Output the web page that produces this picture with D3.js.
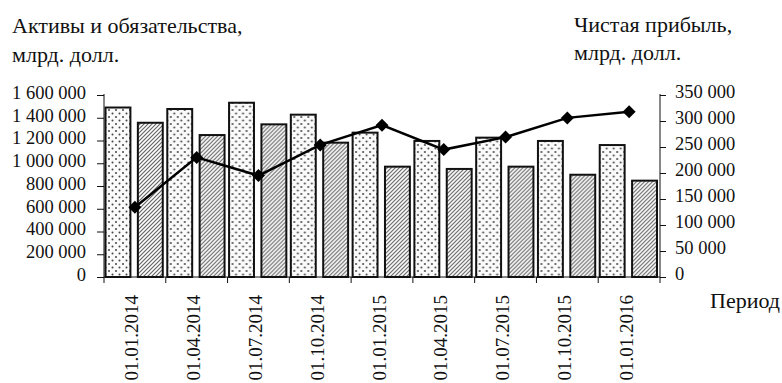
<!DOCTYPE html>
<html>
<head>
<meta charset="utf-8">
<script src="https://cdn.jsdelivr.net/npm/d3@7"></script>
<style>
  html, body { margin: 0; padding: 0; background: #fff; }
  svg { display: block; }
  text { font-family: "Liberation Serif", "Times New Roman", serif; fill: #111; }
</style>
</head>
<body>
<svg id="chart" width="782" height="383"></svg>
<script>
// Quarterly dates
const periods = ["01.01.2014", "01.04.2014", "01.07.2014", "01.10.2014", "01.01.2015",
                 "01.04.2015", "01.07.2015", "01.10.2015", "01.01.2016"];
// Assets and liabilities, bn USD (left axis)
const assets      = [1490000, 1477000, 1532000, 1427000, 1269000, 1196000, 1225000, 1196000, 1160000];
const liabilities = [1356000, 1248000, 1342000, 1181000,  970000,  950000,  970000,  899000,  847000];
// Net profit, bn USD (right axis)
const netProfit   = [134000, 230000, 195000, 254000, 292000, 245000, 269000, 306000, 318000];
// Axis ticks
const leftTicks  = [0, 200000, 400000, 600000, 800000, 1000000, 1200000, 1400000, 1600000];
const rightTicks = [0, 50000, 100000, 150000, 200000, 250000, 300000, 350000];

const svg = d3.select("#chart");
const plotLeft = 104, plotRight = 660, plotBottom = 277, plotTop = 95;

const fmt = d3.formatLocale({ decimal: ",", thousands: "\u00a0", grouping: [3], currency: ["", ""] }).format(",d");

const x = d3.scaleBand().domain(periods).range([plotLeft, plotRight]).padding(0);
const xInner = d3.scaleBand().domain(["assets", "liabilities"])
  .range([1.5, x.bandwidth() - 3]).paddingInner(0.23);
const yL = d3.scaleLinear().domain([0, 1600000]).range([plotBottom, plotTop]);
const yR = d3.scaleLinear().domain([0, 350000]).range([plotBottom, plotTop]);

// Fill patterns: staggered dots for assets, diagonal hatching for liabilities
const defs = svg.append("defs");
const dots = defs.append("pattern").attr("id", "dots")
  .attr("patternUnits", "userSpaceOnUse").attr("width", 7).attr("height", 7);
dots.append("rect").attr("width", 7).attr("height", 7).attr("fill", "#fafafa");
dots.append("circle").attr("cx", 1.5).attr("cy", 1.5).attr("r", 1).attr("fill", "#444");
dots.append("circle").attr("cx", 5).attr("cy", 5).attr("r", 1).attr("fill", "#444");

const hatch = defs.append("pattern").attr("id", "hatch")
  .attr("patternUnits", "userSpaceOnUse").attr("width", 4).attr("height", 4);
hatch.append("rect").attr("width", 4).attr("height", 4).attr("fill", "#fff");
hatch.append("path").attr("d", "M-1,1 l2,-2 M0,4 l4,-4 M3,5 l2,-2")
  .attr("stroke", "#666").attr("stroke-width", 1.2);

// Bars
const rows = periods.map((p, i) => ({ p, assets: assets[i], liabilities: liabilities[i] }));
const groups = svg.append("g").selectAll("g").data(rows).join("g")
  .attr("transform", d => `translate(${x(d.p)},0)`);
groups.selectAll("rect")
  .data(d => [{ k: "assets", v: d.assets }, { k: "liabilities", v: d.liabilities }])
  .join("rect")
  .attr("x", d => xInner(d.k))
  .attr("width", xInner.bandwidth())
  .attr("y", d => yL(d.v))
  .attr("height", d => plotBottom - yL(d.v))
  .attr("fill", d => d.k === "assets" ? "url(#dots)" : "url(#hatch)")
  .attr("stroke", "#111").attr("stroke-width", 2);

// Left axis
const axL = svg.append("g").attr("transform", `translate(${plotLeft},0)`)
  .call(d3.axisLeft(yL).tickValues(leftTicks).tickFormat(fmt).tickSize(7).tickPadding(11));
axL.select(".domain").attr("stroke", "#111").attr("d", `M0,${plotTop - 1}V${plotBottom}`);
axL.selectAll(".tick line").attr("stroke", "#111");
axL.selectAll(".tick text").attr("font-size", 18.5).attr("dy", "0.18em")
  .attr("font-family", "Liberation Serif").attr("fill", "#111");

// Right axis
const axR = svg.append("g").attr("transform", `translate(${plotRight},0)`)
  .call(d3.axisRight(yR).tickValues(rightTicks).tickFormat(fmt).tickSize(6).tickPadding(9));
axR.select(".domain").attr("stroke", "#111").attr("d", `M0,${plotTop - 1}V${plotBottom}`);
axR.selectAll(".tick line").attr("stroke", "#111");
axR.selectAll(".tick text").attr("font-size", 18.5).attr("dy", "0.12em")
  .attr("font-family", "Liberation Serif").attr("fill", "#111");

// Category axis: ticks on band boundaries, rotated date labels
const xg = svg.append("g");
xg.append("line").attr("x1", plotLeft).attr("x2", plotRight).attr("y1", plotBottom).attr("y2", plotBottom)
  .attr("stroke", "#111");
const bounds = periods.map(p => x(p)).concat([plotRight]);
xg.selectAll("line.t").data(bounds).join("line").attr("class", "t")
  .attr("x1", d => d).attr("x2", d => d).attr("y1", plotBottom).attr("y2", plotBottom + 6)
  .attr("stroke", "#111");
xg.selectAll("text").data(periods).join("text")
  .attr("transform", d => `translate(${x(d) + x.bandwidth() / 2 + 3.5},295) rotate(-90)`)
  .attr("text-anchor", "end").attr("font-size", 19).text(d => d);

// Net profit line with diamond markers
const line = d3.line().x((d, i) => x(periods[i]) + x.bandwidth() / 2).y(d => yR(d));
svg.append("path").datum(netProfit).attr("d", line)
  .attr("fill", "none").attr("stroke", "#000").attr("stroke-width", 2.5);
svg.append("g").selectAll("path").data(netProfit).join("path")
  .attr("transform", (d, i) => `translate(${x(periods[i]) + x.bandwidth() / 2},${yR(d)})`)
  .attr("d", "M0,-6.5L6.5,0L0,6.5L-6.5,0Z").attr("fill", "#000");

// Titles
svg.append("text").attr("x", 12).attr("y", 33).attr("font-size", 22).text("Активы и обязательства,");
svg.append("text").attr("x", 12).attr("y", 62).attr("font-size", 22).text("млрд. долл.");
svg.append("text").attr("x", 574).attr("y", 32).attr("font-size", 22).text("Чистая прибыль,");
svg.append("text").attr("x", 574).attr("y", 60).attr("font-size", 22).text("млрд. долл.");
svg.append("text").attr("x", 710).attr("y", 308).attr("font-size", 22).text("Период");
</script>
</body>
</html>
